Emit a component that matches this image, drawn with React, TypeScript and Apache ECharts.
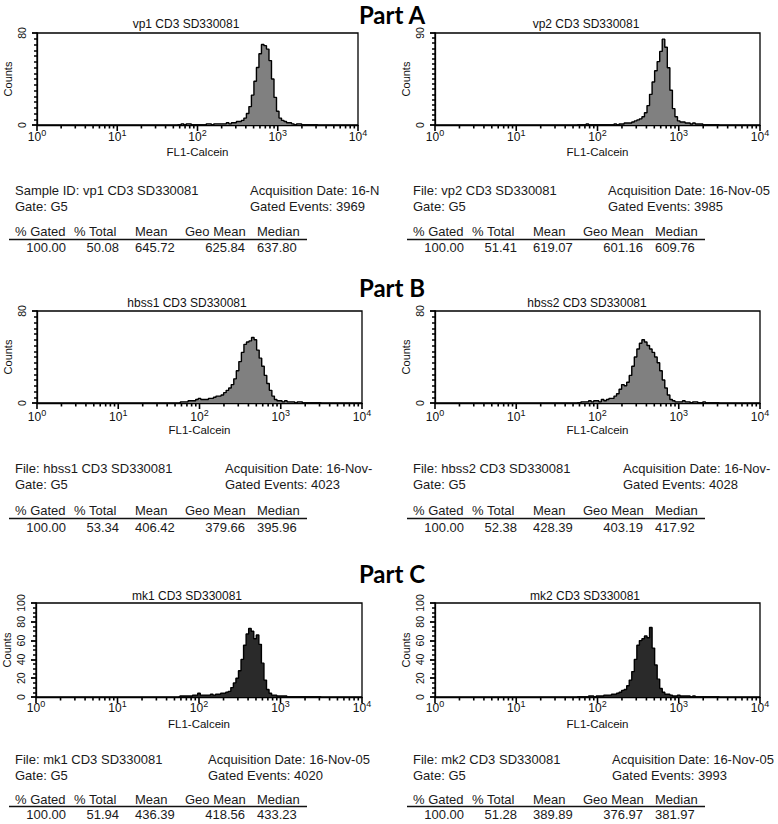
import React, { useEffect, useRef } from 'react';
import * as echarts from 'echarts';

// ---------- data ----------
const partTitles = ['Part A', 'Part B', 'Part C'];
const panelTitles = [
  'vp1 CD3 SD330081',
  'vp2 CD3 SD330081',
  'hbss1 CD3 SD330081',
  'hbss2 CD3 SD330081',
  'mk1 CD3 SD330081',
  'mk2 CD3 SD330081',
];
const fileLabels = [
  'Sample ID: vp1 CD3 SD330081',
  'File: vp2 CD3 SD330081',
  'File: hbss1 CD3 SD330081',
  'File: hbss2 CD3 SD330081',
  'File: mk1 CD3 SD330081',
  'File: mk2 CD3 SD330081',
];
const acquisitionLabels = [
  'Acquisition Date: 16-N',
  'Acquisition Date: 16-Nov-05',
  'Acquisition Date: 16-Nov-',
  'Acquisition Date: 16-Nov-',
  'Acquisition Date: 16-Nov-05',
  'Acquisition Date: 16-Nov-05',
];
const gateLabel = 'Gate: G5';
const gatedEvents = [3969, 3985, 4023, 4028, 4020, 3993];
const statHeaders = ['% Gated', '% Total', 'Mean', 'Geo Mean', 'Median'];
const pctGated = [100.0, 100.0, 100.0, 100.0, 100.0, 100.0];
const pctTotal = [50.08, 51.41, 53.34, 52.38, 51.94, 51.28];
const meanVals = [645.72, 619.07, 406.42, 428.39, 436.39, 389.89];
const geoMeanVals = [625.84, 601.16, 379.66, 403.19, 418.56, 376.97];
const medianVals = [637.8, 609.76, 395.96, 417.92, 433.23, 381.97];

const xTickExponents = ['0', '1', '2', '3', '4'];
const majorTickValues = [1, 10, 100, 1000, 10000];
const minorTickMultipliers = [2, 3, 4, 5, 6, 7, 8, 9];
const yMaxes = [80, 90, 80, 80, 100, 100];
const yIntervals = [80, 90, 80, 80, 20, 20];
const yMinorSplits = [16, 18, 16, 16, 4, 4];

// histogram channels: 32 channels per decade, first listed channel index
const channelsPerDecade = 32;
const firstChannel = 56;

const countsVp1 = [0, 0, 1, 0, 1, 1, 0, 0, 0, 0, 0, 0, 1, 1, 0, 1, 1, 1, 1, 1, 2, 1, 2, 2, 3, 3, 4, 6, 10, 16, 26, 38, 50, 62, 70, 69, 66, 56, 40, 24, 12, 6, 4, 3, 2, 2, 1, 0, 1, 1, 0, 0, 0, 0, 0, 0, 0];
const countsVp2 = [0, 0, 0, 0, 1, 0, 0, 0, 0, 0, 0, 0, 0, 0, 0, 1, 0, 1, 1, 2, 2, 2, 3, 4, 5, 6, 8, 12, 19, 30, 42, 53, 62, 72, 84, 76, 56, 34, 16, 8, 4, 3, 3, 2, 2, 1, 2, 1, 1, 1, 0, 0, 0, 0, 0, 0, 0];
const countsHbss1 = [0, 1, 1, 1, 2, 2, 2, 3, 4, 3, 3, 3, 4, 4, 5, 6, 6, 7, 9, 11, 13, 16, 21, 28, 36, 44, 51, 53, 54, 57, 55, 46, 39, 32, 24, 17, 11, 6, 3, 2, 2, 1, 2, 1, 1, 1, 0, 1, 1, 0, 0, 0, 0, 0, 0, 0, 0];
const countsHbss2 = [0, 0, 1, 1, 1, 2, 1, 2, 2, 1, 3, 2, 3, 4, 4, 6, 8, 12, 16, 15, 18, 24, 32, 40, 47, 52, 55, 53, 50, 47, 44, 40, 35, 28, 20, 13, 7, 3, 2, 1, 1, 1, 2, 1, 1, 0, 1, 1, 0, 0, 1, 0, 0, 0, 0, 0, 0];
const countsMk1 = [0, 1, 1, 1, 1, 1, 2, 2, 4, 2, 2, 2, 2, 3, 2, 3, 3, 4, 4, 5, 6, 10, 15, 20, 28, 40, 55, 67, 73, 70, 62, 66, 56, 36, 18, 8, 4, 2, 2, 1, 1, 1, 1, 0, 0, 0, 0, 0, 0, 0, 0, 0, 0, 0, 0, 0, 0];
const countsMk2 = [0, 0, 0, 0, 0, 1, 1, 0, 1, 1, 1, 2, 2, 2, 3, 3, 4, 5, 7, 8, 12, 18, 27, 40, 55, 60, 62, 65, 63, 74, 52, 34, 19, 9, 5, 3, 3, 2, 1, 1, 2, 1, 1, 1, 1, 0, 1, 0, 0, 0, 0, 0, 0, 0, 0, 0, 0];
const allCounts = [countsVp1, countsVp2, countsHbss1, countsHbss2, countsMk1, countsMk2];

// ---------- layout / style ----------
const SANS = '"Liberation Sans", Arial, sans-serif';
const grids = [
  { left: 37, top: 33, width: 321, height: 92 },
  { left: 435, top: 33, width: 325, height: 92 },
  { left: 37, top: 311, width: 325, height: 92 },
  { left: 435, top: 311, width: 325, height: 92 },
  { left: 36, top: 603, width: 326, height: 94 },
  { left: 435, top: 603, width: 325, height: 94 },
];
const fills = ['#808080', '#808080', '#808080', '#808080', '#2a2a2a', '#2a2a2a'];
const panelTitleX = [186, 586, 187, 587, 187, 585];
const panelTitleY = [24, 24, 303, 303, 596, 596];
const labelMargins = [3, 3, 5, 5, 2, 2];
const partTitleY = [14, 287, 573];
const infoLeft = [15, 413, 15, 413, 15, 413];
const acqLeft = [250, 608, 225, 623, 208, 612];
const infoRows = [
  { line1: 190, line2: 206, header: 231.5, rule: 239.5, values: 247.5 },
  { line1: 468, line2: 484.5, header: 510, rule: 518.5, values: 527 },
  { line1: 759, line2: 775, header: 799, rule: 806.5, values: 814 },
];

// tick list: [value, length] – major decades long, minor ticks short
function buildXTicks() {
  const out: number[][] = [];
  majorTickValues.forEach((d, k) => {
    out.push([d, 6]);
    if (k < majorTickValues.length - 1) minorTickMultipliers.forEach((m) => out.push([d * m, 3.5]));
  });
  return out;
}

function buildOption() {
  const xTicks = buildXTicks();
  const xAxis: any[] = [];
  const yAxis: any[] = [];
  const series: any[] = [];
  const graphic: any[] = [];

  grids.forEach((g, i) => {
    xAxis.push({
      type: 'log',
      logBase: 10,
      gridIndex: i,
      min: 1,
      max: 10000,
      position: 'bottom',
      name: 'FL1-Calcein',
      nameLocation: 'middle',
      nameGap: 21,
      nameTextStyle: { fontFamily: SANS, fontSize: 11.5, color: '#111' },
      axisLine: { show: true, onZero: false, lineStyle: { color: '#000', width: 1.3 } },
      axisTick: { show: false },
      axisLabel: {
        margin: labelMargins[i],
        showMinLabel: true,
        showMaxLabel: true,
        formatter: (_v: number, idx: number) => `{b|10}{s|${xTickExponents[idx] ?? ''}}`,
        rich: {
          b: { fontFamily: SANS, fontSize: 12, color: '#111', lineHeight: 18 },
          s: { fontFamily: SANS, fontSize: 9, color: '#111', verticalAlign: 'top' },
        },
      },
      splitLine: { show: false },
    });
    yAxis.push({
      type: 'value',
      gridIndex: i,
      min: 0,
      max: yMaxes[i],
      interval: yIntervals[i],
      name: 'Counts',
      nameLocation: 'middle',
      nameGap: 24,
      nameTextStyle: { fontFamily: SANS, fontSize: 11, color: '#111' },
      axisLine: { show: true, lineStyle: { color: '#000', width: 1.3 } },
      axisTick: { show: true, length: 5, lineStyle: { color: '#000', width: 1.8 } },
      minorTick: { show: true, splitNumber: yMinorSplits[i], length: 3, lineStyle: { color: '#000', width: 1.5 } },
      axisLabel: { rotate: 90, margin: 10, fontFamily: SANS, fontSize: 10.5, color: '#111' },
      splitLine: { show: false },
      minorSplitLine: { show: false },
    });
    series.push({
      type: 'line',
      xAxisIndex: i,
      yAxisIndex: i,
      step: 'middle',
      symbol: 'none',
      clip: true,
      lineStyle: { color: '#000', width: 1.4 },
      areaStyle: { color: fills[i], opacity: 1 },
      data: allCounts[i].map((c, k) => [Math.pow(10, (firstChannel + k) / channelsPerDecade), c]),
    });
    // log ticks under the x axis, placed through the axis scale
    series.push({
      type: 'custom',
      coordinateSystem: 'cartesian2d',
      xAxisIndex: i,
      yAxisIndex: i,
      silent: true,
      clip: false,
      z: 10,
      data: xTicks,
      renderItem: (_params: any, api: any) => {
        const p = api.coord([api.value(0), 0]);
        const len = api.value(1);
        return {
          type: 'rect',
          shape: { x: p[0] - 0.8, y: p[1], width: 1.6, height: len },
          style: { fill: '#000' },
        };
      },
    });

    // panel title
    graphic.push({
      type: 'text',
      x: panelTitleX[i],
      y: panelTitleY[i],
      style: { text: panelTitles[i], fontFamily: SANS, fontSize: 12, fill: '#111', align: 'center', verticalAlign: 'middle' },
    });

    // info block
    const row = infoRows[Math.floor(i / 2)];
    const L = infoLeft[i];
    const txt = (text: string, x: number, y: number, align = 'left') => ({
      type: 'text',
      x,
      y,
      style: { text, fontFamily: SANS, fontSize: 13, fill: '#1a1a1a', align, verticalAlign: 'middle' },
    });
    graphic.push(txt(fileLabels[i], L, row.line1));
    graphic.push(txt(gateLabel, L, row.line2));
    graphic.push(txt(acquisitionLabels[i], acqLeft[i], row.line1));
    graphic.push(txt(`Gated Events: ${gatedEvents[i]}`, acqLeft[i], row.line2));
    const headerOffsets = [0, 59, 120, 170, 242];
    statHeaders.forEach((h, j) => graphic.push(txt(h, L + headerOffsets[j], row.header)));
    graphic.push({
      type: 'line',
      shape: { x1: L - 6, y1: row.rule, x2: L + 292, y2: row.rule },
      style: { stroke: '#111', lineWidth: 1.6 },
    });
    graphic.push(txt(pctGated[i].toFixed(2), L + 51, row.values, 'right'));
    graphic.push(txt(pctTotal[i].toFixed(2), L + 104, row.values, 'right'));
    graphic.push(txt(meanVals[i].toFixed(2), L + 120, row.values, 'left'));
    graphic.push(txt(geoMeanVals[i].toFixed(2), L + 230, row.values, 'right'));
    graphic.push(txt(medianVals[i].toFixed(2), L + 242, row.values, 'left'));
  });

  partTitles.forEach((t, p) => {
    graphic.push({
      type: 'text',
      x: 392,
      y: partTitleY[p],
      style: { text: t, fontFamily: 'Lato, "Open Sans", sans-serif', fontWeight: 'bold', fontSize: 24, fill: '#000', align: 'center', verticalAlign: 'middle' },
    });
  });

  return {
    animation: false,
    backgroundColor: '#ffffff',
    grid: grids.map((g) => ({ ...g, show: true, borderColor: '#000', borderWidth: 1.3, backgroundColor: 'transparent' })),
    xAxis,
    yAxis,
    series,
    graphic,
  };
}

export default function App() {
  const ref = useRef<HTMLDivElement | null>(null);
  useEffect(() => {
    if (!ref.current) return;
    const chart = echarts.init(ref.current, undefined, { renderer: 'svg' });
    chart.setOption(buildOption() as any);
    return () => chart.dispose();
  }, []);
  return <div ref={ref} style={{ position: 'absolute', left: 0, top: 0, width: 778, height: 824 }} />;
}
